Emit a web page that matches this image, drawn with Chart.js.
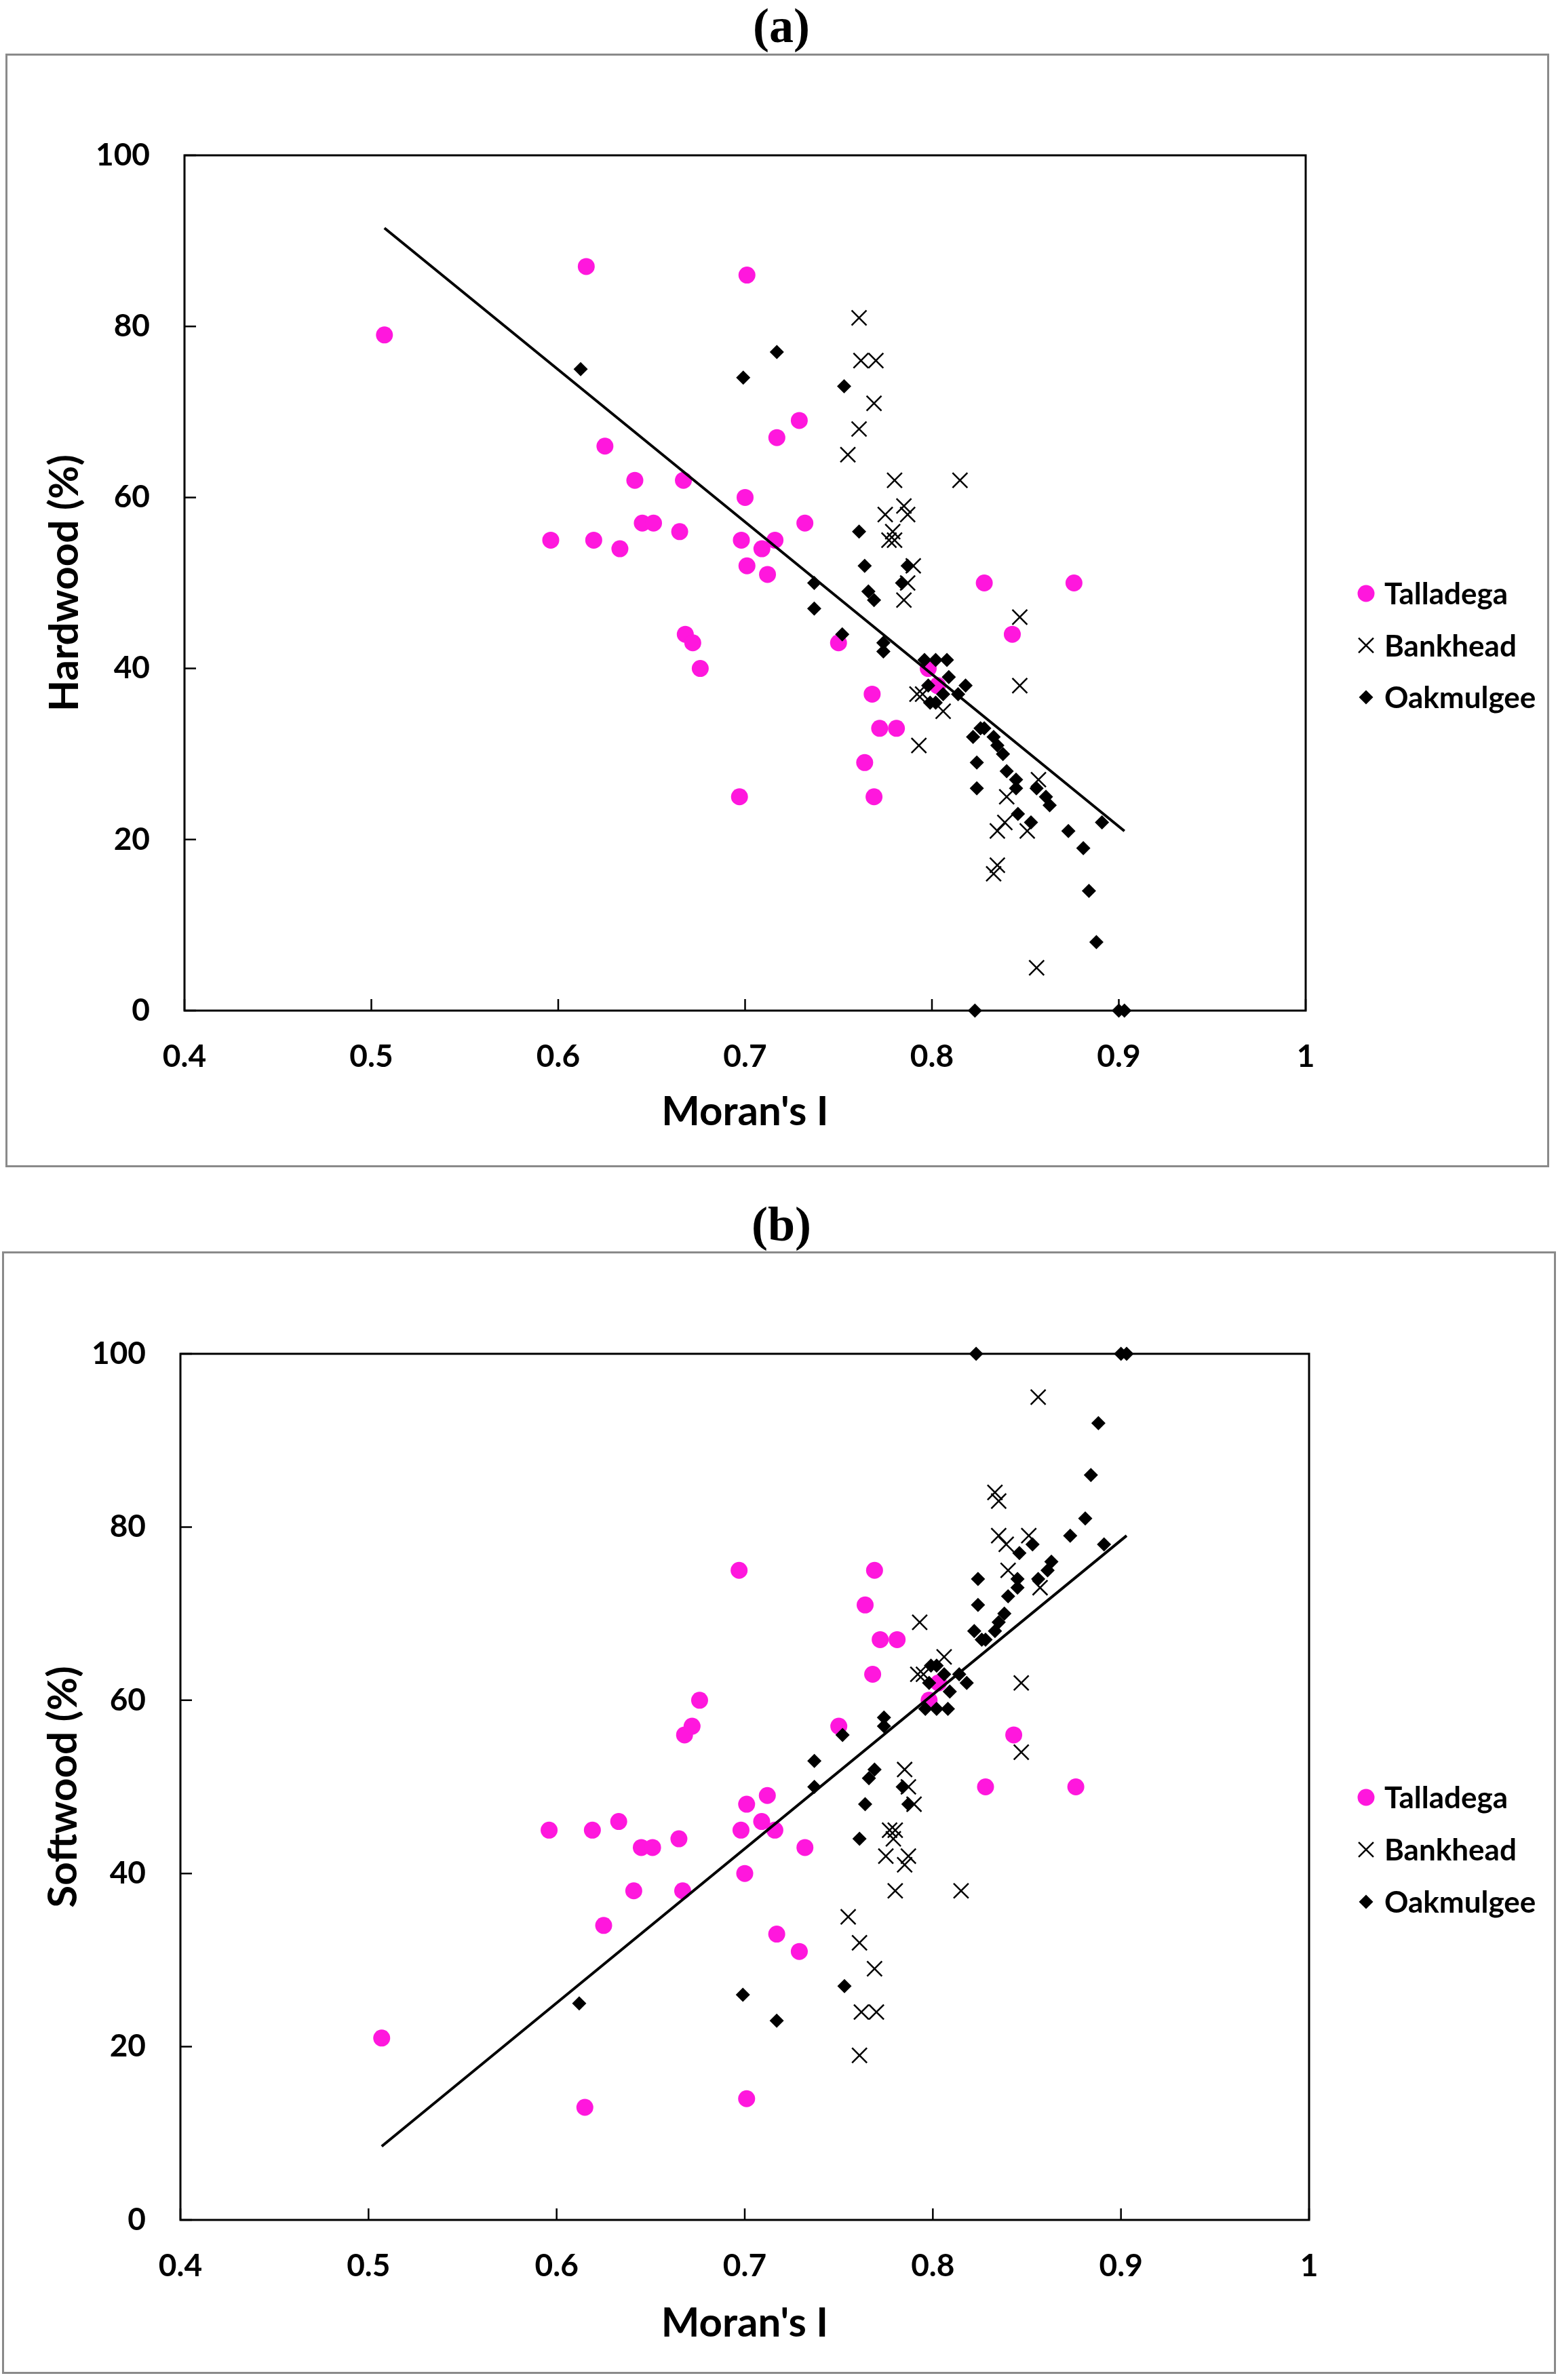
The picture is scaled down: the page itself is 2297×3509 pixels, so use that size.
<!DOCTYPE html>
<html>
<head>
<meta charset="utf-8">
<title>Moran's I vs hardwood / softwood share</title>
<script src="https://cdn.jsdelivr.net/npm/chart.js@4.4.1/dist/chart.umd.min.js"></script>
<style>
  html, body { margin: 0; padding: 0; background: #fff; }
  body { position: relative; width: 2297px; height: 3509px; overflow: hidden; }
  .frame { position: absolute; border: 3px solid #8a8a8a; box-sizing: border-box; }
  .panel-label { position: absolute; width: 300px; margin-left: -150px; text-align: center;
                 font: bold 72px "Liberation Serif", "DejaVu Serif", serif; line-height: 1; color: #000; }
  canvas { position: absolute; left: 0; }
</style>
</head>
<body>
<div class="frame" style="left:8px;top:79px;width:2276px;height:1642px"></div>
<div class="frame" style="left:3px;top:1845px;width:2291px;height:1655px"></div>
<div class="panel-label" style="left:1152px;top:2px">(a)</div>
<div class="panel-label" style="left:1152px;top:1769px">(b)</div>
<canvas id="chartA" width="2297" height="1730" style="top:0;width:2297px;height:1730px"></canvas>
<canvas id="chartB" width="2297" height="1749" style="top:1760px;width:2297px;height:1749px"></canvas>

<script>
// ---- values ----
const xTicks = [0.4, 0.5, 0.6, 0.7, 0.8, 0.9, 1];
const yTicks = [0, 20, 40, 60, 80, 100];

const talladegaX    = [0.507,0.615,0.701,0.596,0.619,0.625,0.633,0.641,0.645,0.651,0.665,0.667,0.668,0.672,0.676,0.697,0.698,0.700,0.701,0.709,0.712,0.716,0.717,0.729,0.732,0.750,0.764,0.768,0.769,0.772,0.781,0.798,0.803,0.828,0.843,0.876];
const talladegaHard = [79,87,86,55,55,66,54,62,57,57,56,62,44,43,40,25,55,60,52,54,51,55,67,69,57,43,29,37,25,33,33,40,38,50,44,50];
const talladegaSoft = [21,13,14,45,45,34,46,38,43,43,44,38,56,57,60,75,45,40,48,46,49,45,33,31,43,57,71,63,75,67,67,60,62,50,56,50];

const bankheadX    = [0.761,0.762,0.770,0.769,0.761,0.755,0.780,0.815,0.785,0.775,0.787,0.779,0.777,0.780,0.790,0.787,0.785,0.847,0.847,0.792,0.795,0.806,0.793,0.857,0.840,0.839,0.835,0.851,0.835,0.833,0.856];
const bankheadHard = [81,76,76,71,68,65,62,62,59,58,58,56,55,55,52,50,48,46,38,37,37,35,31,27,25,22,21,21,17,16,5];
const bankheadSoft = [19,24,24,29,32,35,38,38,41,42,42,44,45,45,48,50,52,54,62,63,63,65,69,73,75,78,79,79,83,84,95];

const oakmulgeeX    = [0.612,0.699,0.717,0.753,0.761,0.764,0.787,0.784,0.737,0.766,0.769,0.737,0.752,0.774,0.774,0.796,0.802,0.808,0.809,0.818,0.798,0.806,0.814,0.799,0.802,0.826,0.828,0.822,0.833,0.835,0.838,0.824,0.840,0.845,0.845,0.824,0.856,0.861,0.863,0.846,0.853,0.891,0.873,0.881,0.884,0.888,0.823,0.900,0.903];
const oakmulgeeHard = [75,74,77,73,56,52,52,50,50,49,48,47,44,43,42,41,41,41,39,38,38,37,37,36,36,33,33,32,32,31,30,29,28,27,26,26,26,25,24,23,22,22,21,19,14,8,0,0,0];
const oakmulgeeSoft = [25,26,23,27,44,48,48,50,50,51,52,53,56,57,58,59,59,59,61,62,62,63,63,64,64,67,67,68,68,69,70,71,72,73,74,74,74,75,76,77,78,78,79,81,86,92,100,100,100];

// fitted line end points
const trendX    = [0.507, 0.903];
const trendHard = [91.5, 21.0];
const trendSoft = [8.5, 79.0];

const legendOrder = ['Talladega', 'Bankhead', 'Oakmulgee'];
const MAGENTA = '#ff17dd';

function pts(xs, ys) { return xs.map((x, i) => ({ x: x, y: ys[i] })); }

// plot box + inward tick marks
const frameTicks = {
    id: 'frameTicks',
    beforeDatasetsDraw(chart) {
        const { ctx, chartArea: a, scales: { x, y } } = chart;
        ctx.save();
        ctx.strokeStyle = '#000'; ctx.lineWidth = 3;
        ctx.strokeRect(a.left, a.top, a.right - a.left, a.bottom - a.top);
        ctx.lineWidth = 2.5; ctx.beginPath();
        x.ticks.forEach(t => { const px = x.getPixelForValue(t.value); ctx.moveTo(px, a.bottom); ctx.lineTo(px, a.bottom - 17); });
        y.ticks.forEach(t => { const py = y.getPixelForValue(t.value); ctx.moveTo(a.left, py); ctx.lineTo(a.left + 17, py); });
        ctx.stroke(); ctx.restore();
    }
};

// legend to the right of the plot, drawn with the datasets' own point styles
const siteLegend = {
    id: 'siteLegend',
    afterDraw(chart, args, opts) {
        const ctx = chart.ctx;
        const drawPoint = Chart.helpers && Chart.helpers.drawPoint;
        ctx.save();
        ctx.textBaseline = 'middle'; ctx.textAlign = 'left';
        ctx.font = 'bold 44px Lato';
        legendOrder.forEach((name, i) => {
            const ds = chart.data.datasets.find(d => d.label === name);
            const y = opts.top + i * opts.gap;
            ctx.fillStyle = ds.backgroundColor; ctx.strokeStyle = ds.borderColor; ctx.lineWidth = ds.borderWidth;
            if (drawPoint) {
                drawPoint(ctx, { pointStyle: ds.pointStyle, radius: ds.pointRadius, rotation: 0, borderWidth: ds.borderWidth }, opts.markerX, y);
            }
            ctx.fillStyle = '#000';
            ctx.fillText(name, opts.textX, y + 2);
        });
        ctx.restore();
    }
};

function makeChart(id, c) {
    return new Chart(document.getElementById(id), {
        type: 'scatter',
        data: {
            datasets: [
                { label: 'trend', data: pts(trendX, c.trend), showLine: true, borderColor: '#000', backgroundColor: '#000', borderWidth: 4, pointRadius: 0, clip: false },
                { label: 'Bankhead', data: pts(bankheadX, c.bank), pointStyle: 'crossRot', pointRadius: 15.5, borderColor: '#000', backgroundColor: '#000', borderWidth: 2.5, clip: false },
                { label: 'Oakmulgee', data: pts(oakmulgeeX, c.oak), pointStyle: 'rectRot', pointRadius: 10.5, borderColor: '#000', backgroundColor: '#000', borderWidth: 0, clip: false },
                { label: 'Talladega', data: pts(talladegaX, c.tal), pointStyle: 'circle', pointRadius: 12.5, borderColor: MAGENTA, backgroundColor: MAGENTA, borderWidth: 0, clip: false }
            ]
        },
        options: {
            responsive: false, animation: false, devicePixelRatio: 1, events: [],
            layout: { autoPadding: false, padding: { left: 0, top: c.top, right: c.right, bottom: 0 } },
            plugins: {
                legend: { display: false }, tooltip: { enabled: false },
                siteLegend: { top: c.legendTop, gap: c.legendGap, markerX: 2014, textX: 2041 }
            },
            scales: {
                x: {
                    type: 'linear', min: 0.4, max: 1,
                    grid: { display: false, drawTicks: false }, border: { display: false },
                    afterBuildTicks: s => { s.ticks = xTicks.map(v => ({ value: v })); },
                    afterFit: s => { s.height = c.xH; },
                    ticks: { padding: 41, color: '#000', autoSkip: false, maxRotation: 0,
                             font: { family: 'Lato', size: 46, weight: 'bold', lineHeight: 1.2 }, callback: v => String(v) },
                    title: { display: true, text: "Moran's I", color: '#000',
                             font: { family: 'Lato', size: 60, weight: 'bold', lineHeight: 1.2 }, padding: { top: 0, bottom: c.xTitlePad } }
                },
                y: {
                    type: 'linear', min: 0, max: 100,
                    grid: { display: false, drawTicks: false }, border: { display: false },
                    afterBuildTicks: s => { s.ticks = yTicks.map(v => ({ value: v })); },
                    afterFit: s => { s.width = c.yW; },
                    ticks: { padding: 51, color: '#000', autoSkip: false,
                             font: { family: 'Lato', size: 46, weight: 'bold', lineHeight: 1.2 }, callback: v => String(v) },
                    title: { display: true, text: c.yTitle, color: '#000',
                             font: { family: 'Lato', size: 60, weight: 'bold', lineHeight: 1.2 }, padding: { top: c.yTitlePad, bottom: 0 } }
                }
            }
        },
        plugins: [frameTicks, siteLegend]
    });
}

function drawAll() {
    makeChart('chartA', { trend: trendHard, bank: bankheadHard, oak: oakmulgeeHard, tal: talladegaHard,
        yTitle: 'Hardwood (%)', top: 229, right: 372, xH: 240, yW: 272, xTitlePad: 54, yTitlePad: 60,
        legendTop: 875, legendGap: 76.5 });
    makeChart('chartB', { trend: trendSoft, bank: bankheadSoft, oak: oakmulgeeSoft, tal: talladegaSoft,
        yTitle: 'Softwood (%)', top: 236, right: 367, xH: 236, yW: 266, xTitlePad: 47, yTitlePad: 58,
        legendTop: 890, legendGap: 77 });
}

Promise.all([document.fonts.load('bold 46px Lato'), document.fonts.load('bold 72px "Liberation Serif"')])
    .then(drawAll, drawAll);
</script>
</body>
</html>
